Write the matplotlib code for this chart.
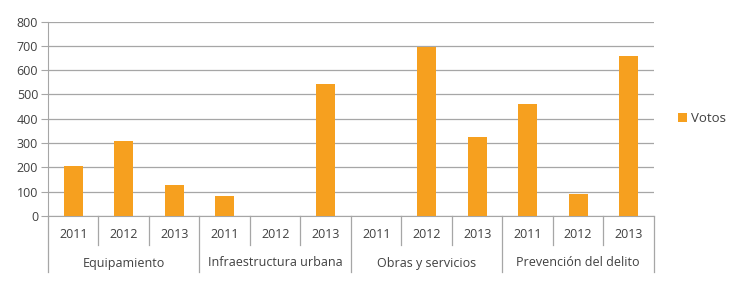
import matplotlib
matplotlib.use("Agg")
from matplotlib import pyplot as plt
from matplotlib.transforms import blended_transform_factory

grupos = ["Equipamiento", "Infraestructura urbana", "Obras y servicios", "Prevención del delito"]
anios = ["2011", "2012", "2013"]
votos = [
    [205, 310, 128],   # Equipamiento
    [84, 0, 543],      # Infraestructura urbana
    [0, 695, 326],     # Obras y servicios
    [461, 89, 660],    # Prevención del delito
]
y_ticks = [0, 100, 200, 300, 400, 500, 600, 700, 800]

plt.rcParams["font.family"] = ["Open Sans", "DejaVu Sans"]
naranja = "#F6A01F"
gris = "#A6A6A6"
texto = "#404040"
fs = 9

fig = plt.figure(figsize=(7.29, 2.88), dpi=100)
ax = fig.add_axes([0.0658, 0.25, 0.8312, 0.675])

valores = [v for g in votos for v in g]
etiquetas = [a for g in votos for a in anios]
pos = [i + 0.5 for i in range(len(valores))]
ax.bar(pos, valores, width=0.38, color=naranja, label="Votos", zorder=3)

ax.set_xlim(0, len(valores))
ax.set_ylim(0, 800)
ax.set_yticks(y_ticks)
ax.tick_params(axis="y", length=5, color=gris, labelsize=fs, labelcolor=texto, pad=2)
ax.set_xticks([])
ax.grid(axis="y", color=gris, linewidth=0.9, zorder=0)
for s in ["top", "right"]:
    ax.spines[s].set_visible(False)
ax.spines["left"].set_color(gris)
ax.spines["bottom"].set_color(gris)

trans = blended_transform_factory(ax.transData, ax.transAxes)
h = ax.get_position().height * 288  # alto del eje en px
d1 = 29 / h
d2 = 56 / h

for i, lab in enumerate(etiquetas):
    ax.text(i + 0.5, -19 / h, lab, transform=trans, ha="center", va="center",
            fontsize=fs, color=texto)
for i in range(len(valores) + 1):
    largo = d2 if i % 3 == 0 else d1
    ax.plot([i, i], [0, -largo], transform=trans, color=gris, linewidth=0.9, clip_on=False)
for j, g in enumerate(grupos):
    ax.text(j * 3 + 1.5, -47 / h, g, transform=trans, ha="center", va="center",
            fontsize=fs, color=texto)

ax.legend(loc="center left", bbox_to_anchor=(1.02, 0.5), frameon=False, fontsize=9.5,
          handlelength=0.7, handleheight=0.7, handletextpad=0.3, labelcolor=texto)

fig.savefig("out.png", dpi=100)
